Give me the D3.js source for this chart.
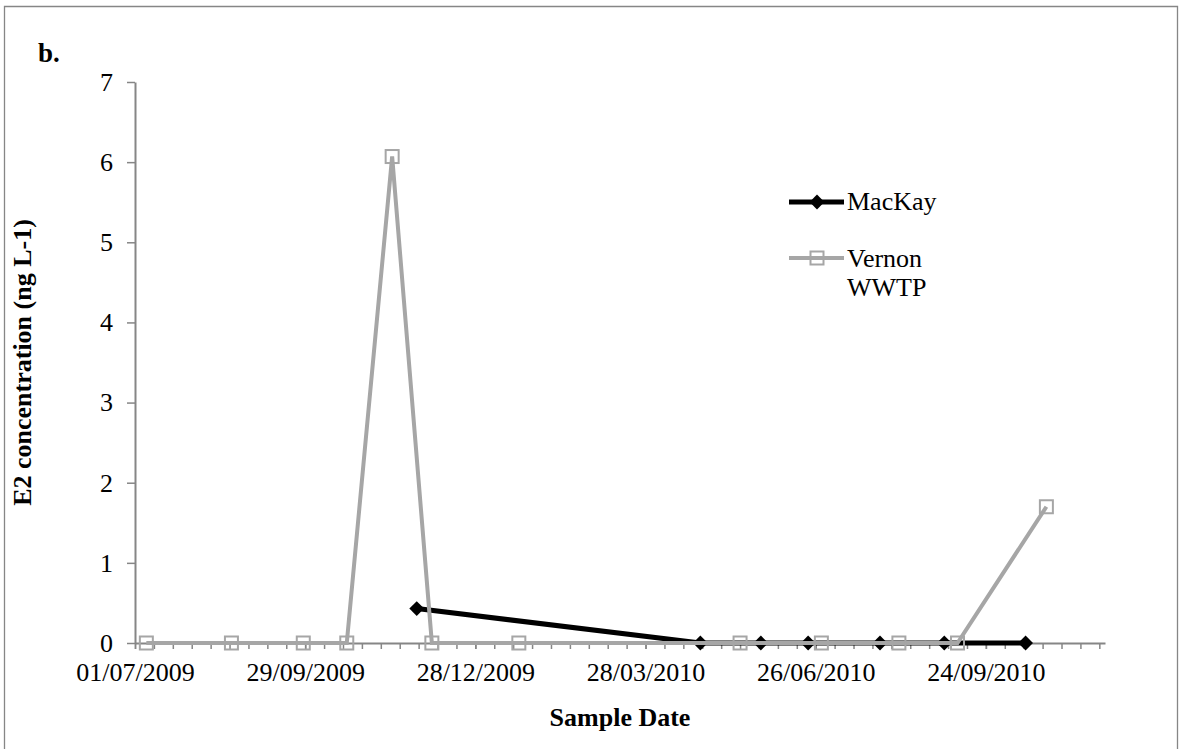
<!DOCTYPE html>
<html>
<head>
<meta charset="utf-8">
<script src="https://cdn.jsdelivr.net/npm/d3@7"></script>
<style>
  body { margin: 0; background: #fff; }
  svg text { font-family: "Liberation Serif", "Times New Roman", serif; fill: #000; }
</style>
</head>
<body>
<svg id="chart"></svg>
<script>
// sample dates and E2 values (ng/L)
var mackayDates = ["27/11/2009", "26/04/2010", "28/05/2010", "22/06/2010", "30/07/2010", "02/09/2010", "15/10/2010"];
var mackayValues = [0.43, 0, 0, 0, 0, 0, 0];

var vernonDates = ["07/07/2009", "21/08/2009", "28/09/2009", "21/10/2009", "14/11/2009", "05/12/2009",
                   "20/01/2010", "17/05/2010", "29/06/2010", "09/08/2010", "09/09/2010", "26/10/2010"];
var vernonValues = [0, 0, 0, 0, 6.07, 0, 0, 0, 0, 0, 0, 1.70];

var seriesNames = ["MacKay", "Vernon WWTP"];
var xDomain = ["01/07/2009", "26/11/2010"];
var yTicks = [0, 1, 2, 3, 4, 5, 6, 7];

var W = 1182, H = 749;
var margin = {left: 135, right: 77, top: 82, bottom: 106};
var parse = d3.utcParse("%d/%m/%Y");
var fmt = d3.utcFormat("%d/%m/%Y");

var svg = d3.select("#chart").attr("width", W).attr("height", H);

// outer frame
svg.append("path")
  .attr("d", "M4.5," + H + "V6.5H1177.5V" + H)
  .attr("fill", "none").attr("stroke", "#868686").attr("stroke-width", 1.3);

var x = d3.scaleUtc()
  .domain(xDomain.map(parse))
  .range([margin.left, W - margin.right]);
var y = d3.scaleLinear()
  .domain([0, 7])
  .range([H - margin.bottom, margin.top]);

var start = parse(xDomain[0]);
var span = d3.utcDay.count(start, parse(xDomain[1]));
var majorTicks = d3.range(0, span, 90).map(function(d){ return d3.utcDay.offset(start, d); });
var minorTicks = d3.range(0, span + 1, 10).map(function(d){ return d3.utcDay.offset(start, d); });

var axisColor = "#868686";

// x axis minor ticks
var xg = svg.append("g").attr("transform", "translate(0," + y(0) + ")");
xg.append("g")
  .call(d3.axisBottom(x).tickValues(minorTicks).tickSize(6).tickFormat(""))
  .call(function(g){
    g.select(".domain").remove();
    g.selectAll("line").attr("stroke", axisColor).attr("stroke-width", 1.5);
  });
// x axis major ticks + labels
xg.append("g")
  .call(d3.axisBottom(x).tickValues(majorTicks).tickSize(6).tickPadding(14).tickFormat(fmt).tickSizeOuter(0))
  .call(function(g){
    g.select(".domain").attr("stroke", axisColor).attr("stroke-width", 2);
    g.selectAll("line").attr("stroke", axisColor).attr("stroke-width", 1.5);
    g.selectAll("text").attr("font-size", 26).attr("fill", "#000");
  });

// y axis
svg.append("g")
  .attr("transform", "translate(" + margin.left + ",0)")
  .call(d3.axisLeft(y).tickValues(yTicks).tickSize(8).tickPadding(14).tickFormat(d3.format("d")).tickSizeOuter(0))
  .call(function(g){
    g.select(".domain").attr("stroke", axisColor).attr("stroke-width", 2);
    g.selectAll("line").attr("stroke", axisColor).attr("stroke-width", 1.5);
    g.selectAll("text").attr("font-size", 26).attr("fill", "#000");
  });

// titles
svg.append("text").attr("x", 38).attr("y", 62)
  .attr("font-size", 27).attr("font-weight", "bold").text("b.");
svg.append("text")
  .attr("x", (margin.left + W - margin.right) / 2).attr("y", 726)
  .attr("text-anchor", "middle").attr("font-size", 26).attr("font-weight", "bold")
  .text("Sample Date");
svg.append("text")
  .attr("transform", "translate(31," + ((y(0) + y(7)) / 2) + ") rotate(-90)")
  .attr("text-anchor", "middle").attr("font-size", 26).attr("font-weight", "bold")
  .text("E2 concentration (ng L-1)");

var line = d3.line()
  .x(function(d){ return x(d.date); })
  .y(function(d){ return y(d.value); });

var mackay = mackayDates.map(function(d, i){ return {date: parse(d), value: mackayValues[i]}; });
var vernon = vernonDates.map(function(d, i){ return {date: parse(d), value: vernonValues[i]}; });

var diamond = d3.symbol().type(d3.symbolDiamond2).size(140);
var black = "#000", grey = "#a6a6a6";

// MacKay
svg.append("path").datum(mackay)
  .attr("d", line).attr("fill", "none").attr("stroke", black).attr("stroke-width", 5);
svg.selectAll(".mk").data(mackay).enter().append("path")
  .attr("class", "mk")
  .attr("transform", function(d){ return "translate(" + x(d.date) + "," + y(d.value) + ")"; })
  .attr("d", diamond).attr("fill", black);

// Vernon WWTP
svg.append("path").datum(vernon)
  .attr("d", line).attr("fill", "none").attr("stroke", grey).attr("stroke-width", 4);
svg.selectAll(".vn").data(vernon).enter().append("rect")
  .attr("class", "vn")
  .attr("x", function(d){ return x(d.date) - 6.5; })
  .attr("y", function(d){ return y(d.value) - 6.5; })
  .attr("width", 13).attr("height", 13)
  .attr("fill", "none").attr("stroke", grey).attr("stroke-width", 2);

// legend
var leg = svg.append("g").attr("transform", "translate(789,202)");
leg.append("line").attr("x1", 0).attr("x2", 55).attr("stroke", black).attr("stroke-width", 5);
leg.append("path").attr("transform", "translate(28,0)").attr("d", diamond).attr("fill", black);
leg.append("text").attr("x", 58).attr("y", 8).attr("font-size", 26).text(seriesNames[0]);

var leg2 = svg.append("g").attr("transform", "translate(789,258)");
leg2.append("line").attr("x1", 0).attr("x2", 55).attr("stroke", grey).attr("stroke-width", 4);
leg2.append("rect").attr("x", 21.5).attr("y", -6.5).attr("width", 13).attr("height", 13)
  .attr("fill", "none").attr("stroke", grey).attr("stroke-width", 2);
var words = seriesNames[1].split(" ");
leg2.append("text").attr("x", 58).attr("y", 9).attr("font-size", 26).text(words[0]);
leg2.append("text").attr("x", 58).attr("y", 38).attr("font-size", 26).text(words[1]);
</script>
</body>
</html>
